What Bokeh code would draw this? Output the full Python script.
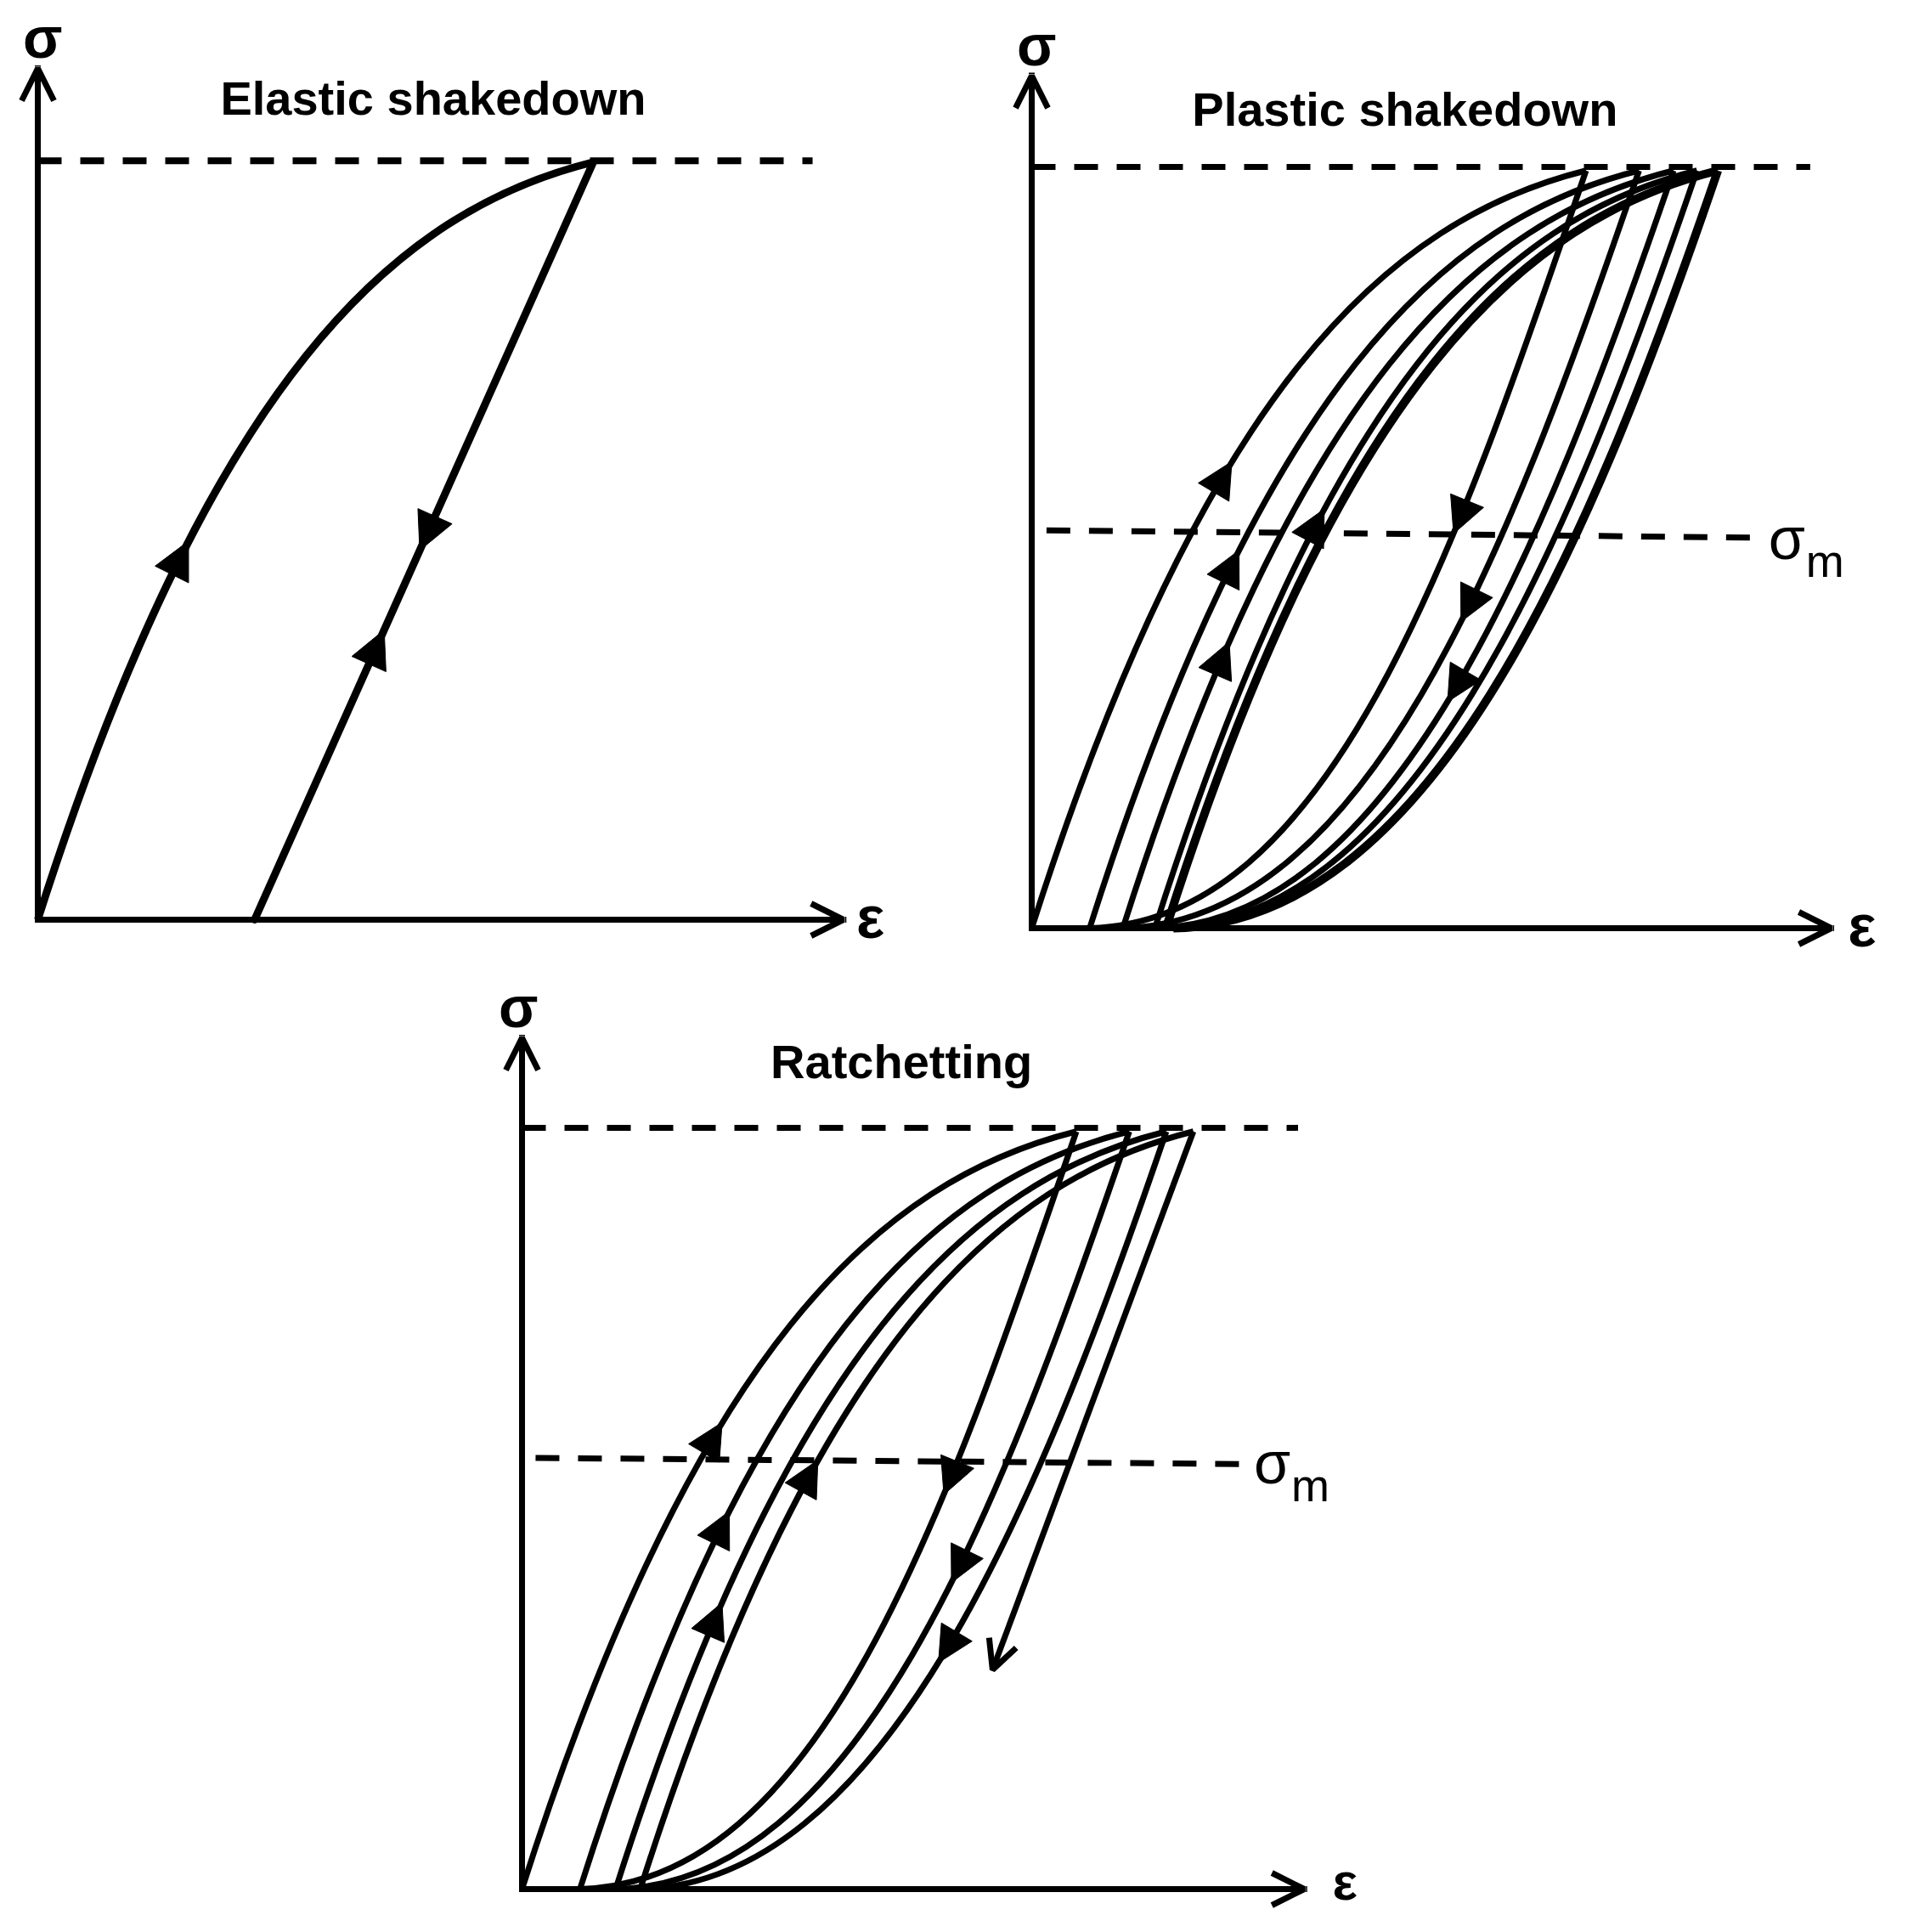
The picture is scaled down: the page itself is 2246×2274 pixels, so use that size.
import numpy as np
from bokeh.plotting import figure
from bokeh.models import Range1d, Arrow, NormalHead, OpenHead, ColumnDataSource, Spacer
from bokeh.layouts import row, column
from bokeh.embed import file_html
from bokeh.resources import INLINE
from bokeh.core.properties import value

# ---------------- data (arbitrary strain / stress units) -------------
# Elastic shakedown: loading curve (cubic Bezier: start, ctrl1, ctrl2, peak) and elastic unload/reload line
el_load_x = [0, 140, 290, 451]
el_load_y = [0, 440, 575, 615]
el_unload_x = [451, 176]
el_unload_y = [615, 0]
el_sigma_max = 616

# Plastic shakedown: five loading branches and five unloading branches (Bezier control points)
ps_load_x0 = [0, 47, 74, 100, 109]
ps_load_cx0 = [140, 187, 214, 240, 249]
ps_load_cy0 = [440, 440, 440, 440, 440]
ps_load_cx1 = [290, 333, 361, 380, 397]
ps_load_cy1 = [575, 575, 575, 575, 575]
ps_peak_x = [450, 493, 521, 540, 557]
ps_peak_y = [615, 615, 615, 615, 615]
ps_unl_cx0 = [341, 384, 412, 431, 448]
ps_unl_cy0 = [295, 295, 295, 295, 295]
ps_unl_cx1 = [240, 270, 290, 305, 320]
ps_unl_cy1 = [5, 5, 5, 5, 5]
ps_unl_x1 = [47, 74, 100, 109, 115]
ps_sigma_max = 618
ps_sigma_m = [323, 317]

# Ratchetting: four loading branches, three full unloading branches, last unloading stops
rt_load_x0 = [0, 47, 76, 96]
rt_load_cx0 = [140, 187, 216, 236]
rt_load_cy0 = [440, 440, 440, 440]
rt_load_cx1 = [290, 333, 363, 385]
rt_load_cy1 = [575, 575, 575, 575]
rt_peak_x = [450, 493, 523, 545]
rt_peak_y = [615, 615, 615, 615]
rt_unl_cx0 = [341, 384, 414]
rt_unl_cy0 = [295, 295, 295]
rt_unl_cx1 = [240, 270, 290]
rt_unl_cy1 = [5, 5, 5]
rt_unl_x1 = [47, 76, 96]
rt_last_unl_x = [545, 382]
rt_last_unl_y = [615, 178]
rt_sigma_max = 618
rt_sigma_m = [350, 345]

K = 1.45  # screen px per unit
FONT = value("Liberation Sans")


def make_fig(left, top, w, h, ox, oy):
    xs = -(ox - left) / K
    ys = -(h - (oy - top)) / K
    p = figure(width=w, height=h, x_range=Range1d(xs, xs + w / K),
               y_range=Range1d(ys, ys + h / K), output_backend="svg",
               toolbar_location=None, min_border=0, x_axis_type=None, y_axis_type=None)
    p.grid.visible = False
    p.outline_line_color = None
    p.background_fill_color = "white"
    p.border_fill_color = "white"
    return p


def bez(p0, p1, p2, p3, t):
    mt = 1 - t
    pt = [mt**3 * p0[i] + 3 * mt**2 * t * p1[i] + 3 * mt * t**2 * p2[i] + t**3 * p3[i] for i in range(2)]
    d = [3 * mt**2 * (p1[i] - p0[i]) + 6 * mt * t * (p2[i] - p1[i]) + 3 * t**2 * (p3[i] - p2[i]) for i in range(2)]
    n = np.hypot(d[0], d[1])
    return pt, [d[0] / n, d[1] / n]


def add_heads(p, pts, dirs, size=42):
    h = size / 2 / K
    src = ColumnDataSource(dict(
        x0=[pt[0] - u[0] * h for pt, u in zip(pts, dirs)],
        y0=[pt[1] - u[1] * h for pt, u in zip(pts, dirs)],
        x1=[pt[0] + u[0] * h for pt, u in zip(pts, dirs)],
        y1=[pt[1] + u[1] * h for pt, u in zip(pts, dirs)]))
    p.add_layout(Arrow(end=NormalHead(size=size, fill_color="black", line_color="black", line_width=1),
                       x_start="x0", y_start="y0", x_end="x1", y_end="y1", source=src,
                       line_alpha=0))


def add_axes(p, ytip, xtip, lw=7):
    for xe, ye in [(0, ytip), (xtip, 0)]:
        p.add_layout(Arrow(end=OpenHead(size=38, line_width=lw, line_color="black"),
                           x_start=0, y_start=0, x_end=xe, y_end=ye,
                           line_width=lw, line_color="black", line_cap="square"))


def txt(p, x, y, s, size, bold=True, align="center", baseline="middle"):
    p.text(x=[x], y=[y], text=[s], text_font=FONT, text_font_size=size,
           text_font_style="bold" if bold else "normal", text_align=align,
           text_baseline=baseline, text_color="black")


# ---------------- Elastic shakedown ----------------
pA = make_fig(8, 8, 1110, 1130, 52, 1090)
add_axes(pA, 691, 654)
pA.line([0, 629], [el_sigma_max, el_sigma_max], line_dash="28 22", line_width=8, line_color="black")
pA.bezier(x0=[el_load_x[0]], y0=[el_load_y[0]], cx0=[el_load_x[1]], cy0=[el_load_y[1]],
          cx1=[el_load_x[2]], cy1=[el_load_y[2]], x1=[el_load_x[3]], y1=[el_load_y[3]],
          line_width=9, line_color="black")
pA.line(el_unload_x, el_unload_y, line_width=9, line_color="black", line_cap="round")
P = [(el_load_x[i], el_load_y[i]) for i in range(4)]
pts, dirs = [], []
pt, u = bez(*P, 0.27); pts.append(pt); dirs.append(u)
dx, dy = el_unload_x[1] - el_unload_x[0], el_unload_y[1] - el_unload_y[0]
n = np.hypot(dx, dy)
for f, sgn in [(0.49, 1), (1 - 0.36, -1)]:
    pts.append([el_unload_x[0] + f * dx, el_unload_y[0] + f * dy])
    dirs.append([sgn * dx / n, sgn * dy / n])
add_heads(pA, pts, dirs, size=44)
txt(pA, 4, 716, "σ", "68px")
txt(pA, 676, 2, "ε", "70px")
txt(pA, 321, 667, "Elastic shakedown", "56px", baseline="alphabetic")

# ---------------- Plastic shakedown ----------------
pB = make_fig(1118, 8, 1120, 1130, 1222, 1100)
add_axes(pB, 692, 649)
pB.line([0, 632], [ps_sigma_max, ps_sigma_max], line_dash="28 22", line_width=7, line_color="black")
pB.line([12, 592], ps_sigma_m, line_dash="28 22", line_width=7, line_color="black")
nB = len(ps_load_x0)
wB = [7, 7, 7, 7, 10]
pB.bezier(x0=ps_load_x0, y0=[0] * nB, cx0=ps_load_cx0, cy0=ps_load_cy0, cx1=ps_load_cx1,
          cy1=ps_load_cy1, x1=ps_peak_x, y1=ps_peak_y, line_width=wB, line_color="black")
pB.bezier(x0=ps_peak_x, y0=ps_peak_y, cx0=ps_unl_cx0, cy0=ps_unl_cy0, cx1=ps_unl_cx1,
          cy1=ps_unl_cy1, x1=ps_unl_x1, y1=[0] * nB, line_width=wB, line_color="black")
pts, dirs = [], []
for i, t in [(0, 0.36), (1, 0.27), (2, 0.19), (3, 0.31)]:
    pt, u = bez((ps_load_x0[i], 0), (ps_load_cx0[i], ps_load_cy0[i]), (ps_load_cx1[i], ps_load_cy1[i]),
                (ps_peak_x[i], ps_peak_y[i]), t)
    pts.append(pt); dirs.append(u)
for i, t in [(0, 0.31), (1, 0.40), (2, 0.49)]:
    pt, u = bez((ps_peak_x[i], ps_peak_y[i]), (ps_unl_cx0[i], ps_unl_cy0[i]), (ps_unl_cx1[i], ps_unl_cy1[i]),
                (ps_unl_x1[i], 0), t)
    pts.append(pt); dirs.append(u)
add_heads(pB, pts, dirs)
txt(pB, 4, 717, "σ", "68px")
txt(pB, 674, 2, "ε", "70px")
txt(pB, 303, 665, "Plastic shakedown", "56px", baseline="alphabetic")
txt(pB, 613, 316, "σ", "70px", bold=False)
txt(pB, 644, 298, "m", "54px", bold=False)

# ---------------- Ratchetting ----------------
pC = make_fig(400, 1138, 1300, 1128, 622, 2231)
add_axes(pC, 691, 635)
pC.line([0, 630], [rt_sigma_max, rt_sigma_max], line_dash="28 22", line_width=7, line_color="black")
pC.line([11, 588], rt_sigma_m, line_dash="28 22", line_width=7, line_color="black")
nC = len(rt_load_x0)
pC.bezier(x0=rt_load_x0, y0=[0] * nC, cx0=rt_load_cx0, cy0=rt_load_cy0, cx1=rt_load_cx1,
          cy1=rt_load_cy1, x1=rt_peak_x, y1=rt_peak_y, line_width=7, line_color="black")
nU = len(rt_unl_x1)
pC.bezier(x0=rt_peak_x[:nU], y0=rt_peak_y[:nU], cx0=rt_unl_cx0, cy0=rt_unl_cy0, cx1=rt_unl_cx1,
          cy1=rt_unl_cy1, x1=rt_unl_x1, y1=[0] * nU, line_width=7, line_color="black")
pC.add_layout(Arrow(end=OpenHead(size=34, line_width=7, line_color="black"),
                    x_start=rt_last_unl_x[0], y_start=rt_last_unl_y[0],
                    x_end=rt_last_unl_x[1], y_end=rt_last_unl_y[1],
                    line_width=7, line_color="black"))
pts, dirs = [], []
for i, t in [(0, 0.36), (1, 0.27), (2, 0.19), (3, 0.32)]:
    pt, u = bez((rt_load_x0[i], 0), (rt_load_cx0[i], rt_load_cy0[i]), (rt_load_cx1[i], rt_load_cy1[i]),
                (rt_peak_x[i], rt_peak_y[i]), t)
    pts.append(pt); dirs.append(u)
for i, t in [(0, 0.31), (1, 0.40), (2, 0.49)]:
    pt, u = bez((rt_peak_x[i], rt_peak_y[i]), (rt_unl_cx0[i], rt_unl_cy0[i]), (rt_unl_cx1[i], rt_unl_cy1[i]),
                (rt_unl_x1[i], 0), t)
    pts.append(pt); dirs.append(u)
add_heads(pC, pts, dirs)
txt(pC, -3, 716, "σ", "68px")
txt(pC, 668, 6, "ε", "62px")
txt(pC, 308, 672, "Ratchetting", "56px", baseline="alphabetic")
txt(pC, 609, 346, "σ", "70px", bold=False)
txt(pC, 640, 328, "m", "54px", bold=False)

layout = column(row(pA, pB), row(Spacer(width=392, height=1128), pC))
open("out.html", "w").write(file_html(layout, INLINE))
